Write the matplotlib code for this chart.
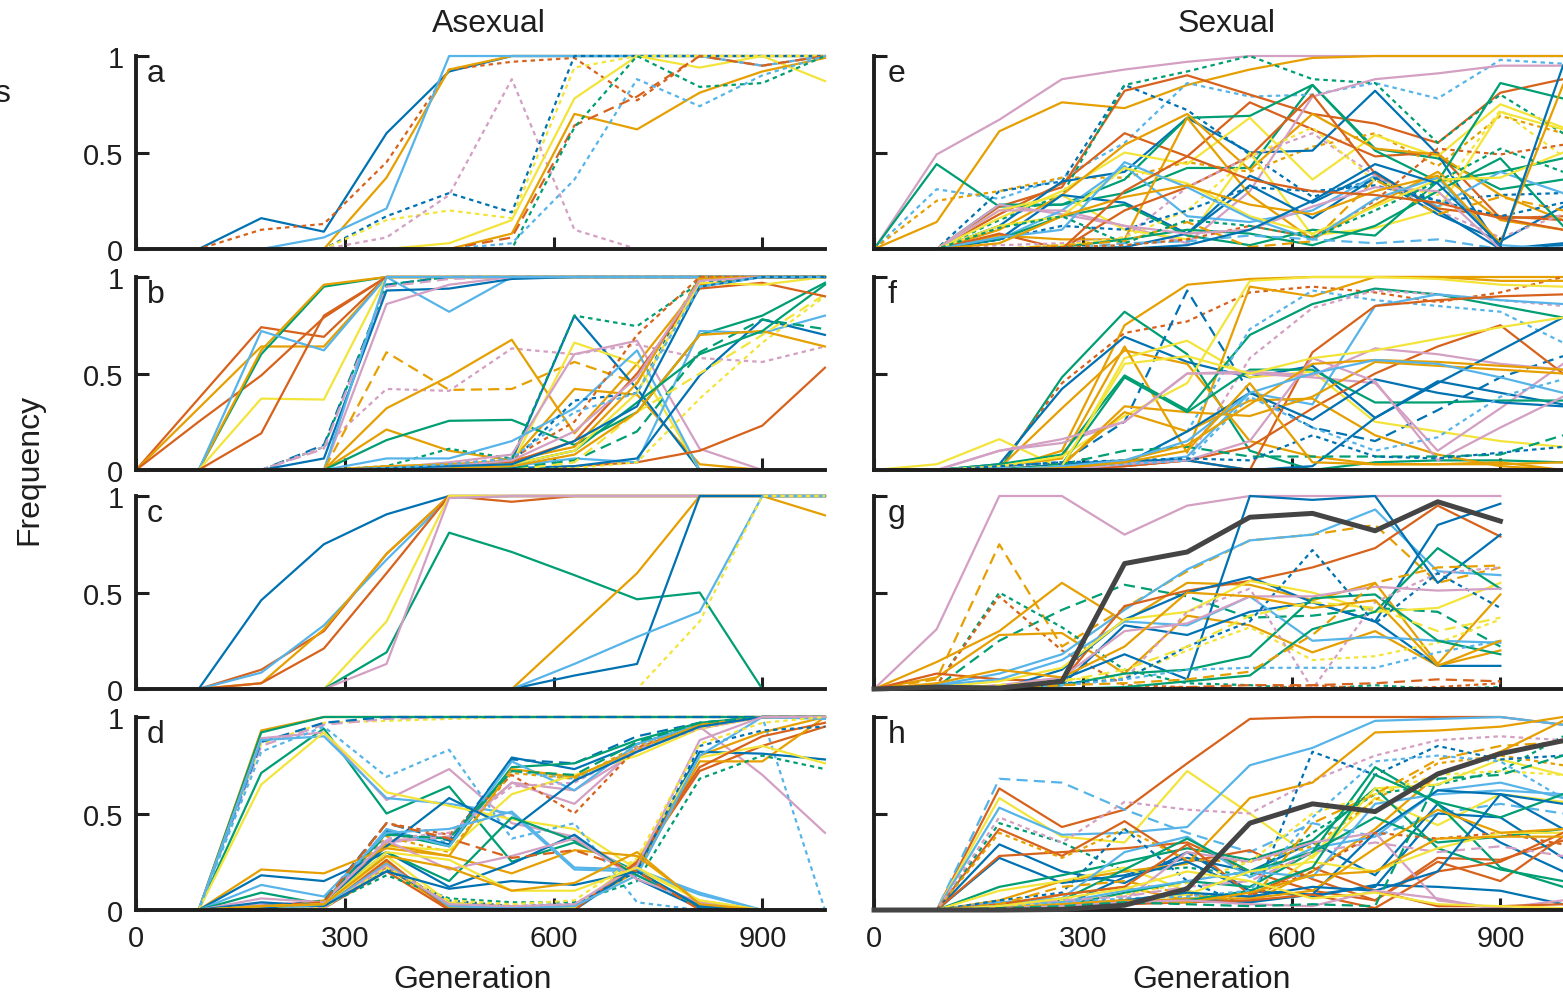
import numpy as np
import matplotlib
matplotlib.use('Agg')
import matplotlib.pyplot as plt

plt.rcParams['font.family'] = ['Liberation Sans', 'DejaVu Sans']

N = np.nan
generations = [0, 90, 180, 270, 360, 450, 540, 630, 720, 810, 900, 990]

# ---- Asexual ----
a_runs = [
    [0, 0, 0.16, 0.09, 0.60, 0.92, 1, 1, 1, 1, 1, 1],
    [0, 0, 0.10, 0.13, 0.45, 0.93, 0.97, 0.99, 0.77, 1, 0.95, 1],
    [0, 0, 0, 0, 0.37, 0.93, 1, 1, 1, 1, 1, 1],
    [0, 0, 0, 0.06, 0.21, 1, 1, 1, 1, 1, 0.95, 1],
    [0, 0, 0, 0, 0.17, 0.29, 0.19, 1, 1, 1, 1, 1],
    [0, 0, 0, 0, 0.15, 0.20, 0.16, 0.94, 1, 1, 1, 1],
    [0, 0, 0, 0, 0.06, 0.28, 0.88, 0.10, 0, 0, 0, 0],
    [0, 0, 0, 0, 0, 0.03, 0.15, 0.78, 1, 0.94, 1, 0.87],
    [0, 0, 0, 0, 0, 0, 0.08, 0.70, 0.62, 0.81, 0.92, 0.99],
    [0, 0, 0, 0, 0, 0, 0.06, 0.64, 0.79, 1, 0.95, 1],
    [0, 0, 0, 0, 0, 0, 0, 0.63, 1, 0.84, 0.86, 1],
    [0, 0, 0, 0, 0, 0, 0.03, 0.36, 0.88, 0.74, 0.90, 1],
]
a_kinds = ['B-', 'V:', 'O-', 'L-', 'B:', 'Y:', 'P:', 'Y-', 'O-', 'V--', 'G:', 'L:']

b_runs = [
    [0, 0.37, 0.74, 0.69, 1, 1, 1, 1, 1, 1, 1, 1],
    [0, 0.32, 0.64, 0.64, 1, 1, 1, 1, 1, 1, 1, 1],
    [0, 0.25, 0.49, 0.79, 1, 1, 1, 1, 1, 1, 1, 1],
    [0, 0, 0.60, 0.95, 1, 1, 1, 1, 1, 1, 1, 1],
    [0, 0, 0.62, 0.96, 1, 1, 1, 1, 1, 1, 1, 1],
    [0, 0, 0.72, 0.62, 1, 0.82, 1, 1, 1, 1, 1, 1],
    [0, 0, 0.37, 0.365, 1, 1, 1, 1, 1, 1, 1, 1],
    [0, 0, 0.19, 0.80, 1, 1, 1, 1, 1, 1, 1, 1],
    [0, 0, 0, 0.13, 0.96, 1, 1, 1, 1, 1, 1, 1],
    [0, 0, 0, 0.12, 0.96, 1, 1, 1, 1, 1, 1, 1],
    [0, 0, 0, 0.11, 0.95, 0.99, 1, 1, 1, 1, 1, 1],
    [0, 0, 0, 0.12, 0.42, 0.41, 0.63, 0.60, 0.65, 0.58, 0.56, 0.64],
    [0, 0, 0, 0.06, 0.93, 0.94, 0.99, 1, 1, 1, 1, 1],
    [0, 0, 0, 0, 0.86, 0.96, 1, 1, 1, 1, 1, 1],
    [0, 0, 0, 0, 1, 1, 1, 1, 1, 1, 1, 1],
    [0, 0, 0, 0, 0.32, 0.485, 0.675, 0.19, 0.55, 0.96, 1, 1],
    [0, 0, 0, 0, 0.61, 0.415, 0.42, 0.56, 0.45, 1, 1, 1],
    [0, 0, 0, 0, 0.21, 0.10, 0.05, 0.42, 0.39, 0.03, 0, 0],
    [0, 0, 0, 0, 0.155, 0.255, 0.26, 0.13, 0.30, 0.70, 0.80, 0.97],
    [0, 0, 0, 0, 0.01, 0.02, 0.05, 0.80, 0.42, 0, 0, 0],
    [0, 0, 0, 0, 0.02, 0.11, 0.06, 0.80, 0.745, 0.97, 1, 1],
    [0, 0, 0, 0, 0, 0.02, 0.03, 0.66, 0.55, 0, 0, 0],
    [0, 0, 0, 0, 0.01, 0.04, 0.08, 0.60, 0.67, 0.11, 0, 0],
    [0, 0, 0, 0, 0.06, 0.06, 0.15, 0.32, 0.62, 0, 0, 0],
    [0, 0, 0, 0, 0, 0.02, 0.04, 0.36, 0.40, 1, 1, 1],
    [0, 0, 0, 0, 0, 0.03, 0.06, 0.25, 0.70, 1, 1, 1],
    [0, 0, 0, 0, 0.02, 0.03, 0.05, 0.12, 0.45, 0.99, 1, 1],
    [0, 0, 0, 0, 0, 0, 0, 0.02, 0.04, 0.10, 0.23, 0.53],
    [0, 0, 0, 0, 0, 0.01, 0.02, 0.06, 0.04, 0.72, 0.71, 0.80],
    [0, 0, 0, 0, 0, 0, 0.01, 0.02, 0.06, 0.49, 0.78, 0.70],
    [0, 0, 0, 0, 0, 0, 0.01, 0.05, 0.20, 0.61, 0.78, 0.73],
    [0, 0, 0, 0, 0, 0, 0, 0.04, 0.30, 0.50, 0.70, 0.91],
    [0, 0, 0, 0, 0, 0, 0, 0.01, 0.04, 0.37, 0.66, 0.90],
    [0, 0, 0, 0, 0, 0.01, 0.02, 0.08, 0.30, 0.70, 0.72, 0.64],
    [0, 0, 0, 0, 0, 0.02, 0.03, 0.10, 0.35, 0.60, 0.72, 0.96],
    [0, 0, 0, 0, 0.01, 0.02, 0.04, 0.15, 0.50, 0.94, 0.97, 0.90],
    [0, 0, 0, 0, 0.01, 0.02, 0.03, 0.10, 0.40, 0.97, 0.96, 1],
    [0, 0, 0, 0, 0, 0.02, 0.05, 0.20, 0.48, 0.98, 1, 1],
    [0, 0, 0, 0, 0.01, 0.02, 0.03, 0.15, 0.33, 0.95, 1, 1],
    [0, 0, 0, 0, 0.01, 0.03, 0.06, 0.30, 0.40, 0.95, 1, 1],
]
b_kinds = ['V-', 'O-', 'V-', 'G-', 'O-', 'L-', 'Y-', 'V-', 'B--', 'G:', 'P--',
           'P:', 'B-', 'P-', 'L-', 'O-', 'O--', 'O-', 'G-', 'B-', 'G:', 'Y-',
           'P-', 'L-', 'B:', 'V:', 'O-', 'V-', 'L-', 'B-', 'G--', 'Y--', 'Y:',
           'O-', 'G-', 'V-', 'Y-', 'P-', 'B-', 'L:']

c_runs = [
    [0, 0, 0.46, 0.75, 0.905, 1, 1, 1, 1, 1, 1, 1],
    [0, 0, 0.10, 0.30, 0.70, 1, 0.97, 1, 1, 1, 1, 1],
    [0, 0, 0.085, 0.33, 0.67, 0.99, 1, 1, 1, 1, 1, 1],
    [0, 0, 0.03, 0.31, 0.70, 1, 1, 1, 1, 1, 1, 1],
    [0, 0, 0.03, 0.21, 0.60, 1, 1, 1, 1, 1, 1, 1],
    [0, 0, 0, 0, 0.35, 1, 1, 1, 1, 1, 1, 1],
    [0, 0, 0, 0, 0.19, 0.81, 0.71, 0.59, 0.465, 0.50, 0, 0],
    [0, 0, 0, 0, 0.13, 0.99, 1, 1, 1, 1, 1, 1],
    [0, 0, 0, 0, 0, 0, 0, 0.30, 0.60, 1, 1, 0.90],
    [0, 0, 0, 0, 0, 0, 0, 0.07, 0.13, 1, 1, 1],
    [0, 0, 0, 0, 0, 0, 0, 0.13, 0.27, 0.40, 1, 1],
    [0, 0, 0, 0, 0, 0, 0, 0, 0, 0.35, 1, 1],
]
c_kinds = ['B-', 'V-', 'L-', 'O-', 'V-', 'Y-', 'G-', 'P-', 'O-', 'B-', 'L-', 'Y:']

d_runs = [
    [0, 0, 0.93, 1, 1, 1, 1, 1, 1, 1, 1, 1],
    [0, 0, 0.86, 0.97, 0.98, 0.99, 1, 1, 1, 1, 1, 1],
    [0, 0, 0.85, 0.96, 0.99, 1, 1, 1, 1, 1, 1, 1],
    [0, 0, 0.92, 1, 1, 1, 1, 1, 1, 1, 1, 1],
    [0, 0, 0.87, 0.97, 1, 1, 1, 1, 1, 1, 1, 1],
    [0, 0, 0.71, 0.94, 0.50, 0.64, 0.25, 0.35, 0.20, 0.02, 0, 0],
    [0, 0, 0.89, 0.92, 0.57, 0.73, 0.45, 0.38, 0.18, 0.03, 0, 0],
    [0, 0, 0.88, 0.90, 0.58, 0.55, 0.50, 0.21, 0.20, 0.08, 0, 0],
    [0, 0, 0.65, 0.92, 0.61, 0.54, 0.47, 0.42, 0.21, 0.05, 0, 0],
    [0, 0, 0.82, 0.95, 0.69, 0.83, 0.37, 0.45, 0.04, 0, 0, 0],
    [0, 0, 0.03, 0.04, 0.35, 0.38, 0.66, 0.62, 0.82, 0.95, 0.70, 0.40],
    [0, 0, 0.02, 0.03, 0.40, 0.35, 0.72, 0.68, 0.84, 0.96, 1, 0],
    [0, 0, 0.01, 0.05, 0.45, 0.36, 0.78, 0.76, 0.90, 0.97, 1, 1],
    [0, 0, 0.02, 0.04, 0.41, 0.34, 0.79, 0.73, 0.86, 0.96, 1, 1],
    [0, 0, 0.01, 0.03, 0.40, 0.33, 0.74, 0.76, 0.88, 0.97, 1, 1],
    [0, 0, 0, 0.04, 0.38, 0.30, 0.71, 0.68, 0.85, 0.95, 1, 1],
    [0, 0, 0.01, 0.04, 0.36, 0.38, 0.66, 0.55, 0.84, 0.94, 1, 1],
    [0, 0, 0.01, 0.03, 0.42, 0.33, 0.77, 0.62, 0.86, 0.96, 1, 1],
    [0, 0, 0, 0.02, 0.33, 0.31, 0.60, 0.70, 0.80, 0.94, 1, 1],
    [0, 0, 0, 0.03, 0.45, 0.39, 0.70, 0.50, 0.84, 0.95, 1, 1],
    [0, 0, 0, 0.05, 0.34, 0.28, 0.73, 0.69, 0.83, 0.96, 1, 1],
    [0, 0, 0, 0.04, 0.37, 0.40, 0.64, 0.66, 0.83, 0.94, 1, 1],
    [0, 0, 0, 0.05, 0.39, 0.37, 0.72, 0.70, 0.87, 0.97, 1, 1],
    [0, 0, 0.01, 0.04, 0.33, 0.58, 0.42, 0.67, 0.82, 0.95, 1, 1],
    [0, 0, 0, 0.02, 0.22, 0.01, 0, 0.01, 0.22, 0.80, 0.92, 1],
    [0, 0, 0, 0.01, 0.20, 0, 0, 0.01, 0.24, 0.72, 0.85, 0.95],
    [0, 0, 0, 0.01, 0.25, 0.02, 0.01, 0.02, 0.20, 0.77, 0.77, 1],
    [0, 0, 0, 0.02, 0.18, 0.06, 0.04, 0.04, 0.15, 0.68, 0.80, 0.73],
    [0, 0, 0, 0.02, 0.23, 0.03, 0, 0, 0.22, 0.82, 0.81, 0.78],
    [0, 0, 0, 0.02, 0.28, 0.04, 0.02, 0.01, 0.26, 0.79, 0.85, 0.76],
    [0, 0, 0, 0.01, 0.26, 0, 0, 0, 0.25, 0.74, 0.90, 0.97],
    [0, 0, 0, 0.01, 0.21, 0.05, 0.02, 0.03, 0.20, 0.85, 0.93, 0.95],
    [0, 0, 0, 0.02, 0.24, 0.02, 0.01, 0.02, 0.18, 0.80, 1, 0.99],
    [0, 0, 0, 0.01, 0.23, 0.03, 0.02, 0.03, 0.23, 0.88, 1, 1],
    [0, 0, 0, 0.01, 0.22, 0.05, 0.03, 0.05, 0.27, 0.86, 0.97, 1],
    [0, 0, 0.21, 0.19, 0.32, 0.28, 0.19, 0.31, 0.28, 0.04, 0, 0],
    [0, 0, 0.18, 0.15, 0.30, 0.12, 0.24, 0.39, 0.16, 0.01, 0, 0],
    [0, 0, 0.13, 0.07, 0.40, 0.42, 0.51, 0.22, 0.21, 0.09, 0, 0],
    [0, 0, 0.09, 0.03, 0.30, 0.15, 0.48, 0.36, 0.18, 0.02, 0, 0],
    [0, 0, 0.06, 0.04, 0.36, 0.21, 0.28, 0.37, 0.16, 0.04, 0, 0],
    [0, 0, 0.04, 0.02, 0.20, 0.11, 0.15, 0.13, 0.20, 0.02, 0, 0],
    [0, 0, 0.02, 0.04, 0.45, 0.37, 0.27, 0.31, 0.20, 0, 0, 0],
    [0, 0, 0.02, 0.03, 0.30, 0.26, 0.10, 0.10, 0.22, 0.05, 0, 0],
    [0, 0, 0.02, 0.03, 0.28, 0.22, 0.10, 0.14, 0.30, 0.03, 0, 0],
]
d_kinds = ['O-', 'Y:', 'P--', 'G-', 'B--', 'G-', 'P-', 'L-', 'Y-', 'L:', 'P-',
           'L:', 'B--', 'B-', 'G-', 'O:', 'P-', 'L-', 'Y-', 'V:', 'O-', 'P:',
           'G--', 'B-', 'O-', 'V-', 'O-', 'G:', 'B-', 'Y-', 'V-', 'B:', 'L-',
           'P-', 'Y:', 'O-', 'B-', 'L-', 'G-', 'P-', 'B-', 'V--', 'Y-', 'O-']

# ---- Sexual ----
e_runs = [
    [0, 0.49, 0.67, 0.88, 0.93, 0.97, 1, 1, 1, 1, 1, 1],
    [0, 0.14, 0.61, 0.76, 0.73, 0.85, 0.93, 0.99, 1, 1, 1, 1],
    [0, 0.44, 0.22, 0.23, 0.29, 0.42, 0.42, 0.85, 0.52, 0.47, 0.31, 0.36],
    [0, 0.31, 0.26, 0.37, 0.55, 0.86, 0.79, 0.80, 0.86, 0.78, 0.98, 0.96],
    [0, 0.25, 0.30, 0.37, 0.37, 0.45, 0.40, 0.53, 0.60, 0.43, 0.69, 0.60],
    [0, 0, 0.30, 0.35, 0.85, 0.72, 0.49, 0.27, 0.36, 0.25, 0.28, 0.29],
    [0, 0, 0.22, 0.32, 0.82, 0.90, 0.80, 0.70, 0.65, 0.55, 0.81, 0.88],
    [0, 0, 0.18, 0.34, 0.60, 0.48, 0.76, 0.62, 0.48, 0.50, 0.16, 0.17],
    [0, 0, 0.15, 0.28, 0.85, 0.92, 1.0, 0.88, 0.86, 0.55, 0.80, 0.60],
    [0, 0, 0.12, 0.35, 0.40, 0.68, 0.50, 0.51, 0.82, 0.49, 0, 0.03],
    [0, 0, 0.23, 0.23, 0.36, 0.68, 0.69, 0.85, 0.51, 0.35, 0.40, 0.47],
    [0, 0, 0.16, 0.30, 0.50, 0.44, 0.68, 0.36, 0.59, 0.48, 0.75, 0.63],
    [0, 0, 0.10, 0.28, 0.54, 0.70, 0.41, 0.70, 0.52, 0.49, 0.28, 0.15],
    [0, 0, 0.23, 0.18, 0.12, 0.03, 0.30, 0.79, 0.88, 0.91, 0.95, 0.95],
    [0, 0, 0.20, 0.28, 0.10, 0.05, 0.50, 0.07, 0.11, 0.20, 0.71, 0.62],
    [0, 0, 0.05, 0.20, 0.43, 0.17, 0.14, 0.20, 0.38, 0.22, 0.40, 0.29],
    [0, 0, 0.05, 0.28, 0.24, 0.08, 0.33, 0.16, 0.37, 0.18, 0.04, 0.22],
    [0, 0, 0.05, 0.17, 0.23, 0.07, 0.02, 0.10, 0.07, 0.35, 0.86, 0.78],
    [0, 0, 0.07, 0.05, 0.05, 0.68, 0.28, 0.05, 0.23, 0.40, 0.15, 0.10],
    [0, 0, 0.08, 0, 0.20, 0.32, 0.48, 0.80, 0.39, 0.21, 0.17, 0.15],
    [0, 0, 0.02, 0.03, 0.06, 0.32, 0.48, 0.60, 0.38, 0.20, 0.06, 0.18],
    [0, 0, 0, 0.02, 0.06, 0.20, 0.48, 0.63, 0.35, 0.28, 0.72, 0.48],
    [0, 0, 0, 0, 0.01, 0.08, 0.38, 0.24, 0.40, 0.20, 0, 0.02],
    [0, 0, 0, 0.01, 0.05, 0.10, 0.08, 0.02, 0.12, 0.30, 0.47, 0.12],
    [0, 0, 0, 0.02, 0.04, 0.14, 0.01, 0.04, 0.36, 0.18, 0.27, 0.20],
    [0, 0, 0, 0, 0.03, 0.04, 0.07, 0.05, 0.03, 0.05, 0, 0.01],
    [0, 0, 0, 0.01, 0.02, 0.05, 0.12, 0.06, 0.25, 0.52, 0.49, 0.54],
    [0, 0, 0.05, 0.12, 0.10, 0.20, 0.32, 0.30, 0.33, 0.25, 0.17, 0.24],
    [0, 0, 0.20, 0.20, 0.12, 0.08, 0.10, 0.22, 0.32, 0.30, 0, 0],
    [0, 0, 0.12, 0.17, 0.42, 0.34, 0.17, 0.08, 0.22, 0.36, 0.37, 0.50],
    [0, 0, 0.06, 0.10, 0.45, 0.32, 0.16, 0.05, 0.26, 0.37, 0.02, 0],
    [0, 0, 0.03, 0.17, 0.27, 0.33, 0.23, 0.18, 0.30, 0.38, 0.03, 0.85],
    [0, 0, 0.11, 0.17, 0.03, 0.15, 0.12, 0.06, 0.20, 0.35, 0.52, 0.40],
    [0, 0, 0, 0, 0.30, 0.48, 0.36, 0.30, 0.28, 0.24, 0.16, 0.10],
    [0, 0, 0, 0, 0, 0.02, 0.10, 0.25, 0.44, 0.34, 0.02, 0.95],
]
e_kinds = ['P-', 'O-', 'G-', 'L:', 'O:', 'B:', 'V-', 'V-', 'G:', 'B-', 'G-',
           'Y-', 'O-', 'P-', 'Y-', 'L-', 'B-', 'G-', 'O-', 'V-', 'P:', 'Y:',
           'B-', 'G-', 'O--', 'L--', 'V:', 'B:', 'P-', 'Y-', 'L-', 'O-', 'G:',
           'V-', 'B-']

f_runs = [
    [0, 0, 0, 0.10, 0.75, 0.96, 0.99, 1, 1, 1, 1, 1],
    [0, 0, 0, 0.48, 0.82, 0.60, 0.10, 0, 0.04, 0.05, 0.05, 0.04],
    [0, 0, 0.02, 0.45, 0.71, 0.77, 0.92, 0.95, 0.92, 0.87, 0.92, 1],
    [0, 0, 0.03, 0.42, 0.69, 0.56, 0.48, 0.54, 0.27, 0.46, 0.40, 0.34],
    [0, 0, 0.02, 0.04, 0.25, 0.93, 0.40, 0.22, 0.15, 0.31, 0.48, 0.59],
    [0, 0, 0.01, 0.32, 0.62, 0.55, 0.15, 0.07, 0.03, 0.03, 0.04, 0],
    [0, 0.03, 0.16, 0.01, 0.58, 0.67, 0.48, 0.51, 0.25, 0.20, 0.15, 0.12],
    [0, 0, 0.10, 0.14, 0.25, 0.50, 0.50, 0.48, 0.45, 0.10, 0.32, 0.55],
    [0, 0, 0.02, 0.06, 0.64, 0.09, 0.95, 0.90, 1, 1, 0.98, 0.98],
    [0, 0, 0.03, 0.08, 0.49, 0.31, 0.70, 0.86, 0.94, 0.91, 0.85, 0.79],
    [0, 0, 0.02, 0.04, 0.03, 0.20, 0.73, 0.93, 0.88, 0.85, 0.82, 0.66],
    [0, 0, 0.02, 0.07, 0.28, 0.45, 0.98, 1, 1, 0.99, 0.96, 0.95],
    [0, 0, 0.02, 0.03, 0.02, 0.05, 0.58, 0.84, 0.93, 0.91, 0.88, 0.85],
    [0, 0, 0.01, 0.02, 0.03, 0.07, 0.40, 0.34, 0.85, 0.91, 0.88, 0.86],
    [0, 0, 0, 0.01, 0.02, 0.05, 0, 0.61, 0.85, 0.88, 0.90, 0.91],
    [0, 0, 0, 0, 0.02, 0.05, 0.12, 0.32, 0.50, 0.64, 0.75, 0.50],
    [0, 0, 0, 0.02, 0.33, 0.30, 0.28, 0.38, 0.56, 0.54, 0.52, 0.50],
    [0, 0, 0, 0.03, 0.48, 0.30, 0.52, 0.52, 0.35, 0.35, 0.36, 0.36],
    [0, 0, 0, 0.03, 0.30, 0.20, 0.36, 0.37, 0.18, 0.08, 0.02, 0],
    [0, 0, 0, 0.02, 0.03, 0.20, 0.40, 0.26, 0.47, 0.40, 0.35, 0.33],
    [0, 0, 0.10, 0.16, 0.25, 0.50, 0.51, 0.49, 0.63, 0.60, 0.55, 0.52],
    [0, 0, 0, 0.03, 0.05, 0.05, 0, 0.02, 0.27, 0.45, 0.62, 0.79],
    [0, 0, 0, 0, 0.03, 0.05, 0.15, 0.58, 0.46, 0.05, 0.22, 0.38],
    [0, 0, 0, 0.02, 0.03, 0.05, 0.38, 0.22, 0.10, 0.17, 0.38, 0.47],
    [0, 0, 0, 0.03, 0.10, 0.12, 0.07, 0.07, 0.07, 0.07, 0.08, 0.18],
    [0, 0, 0.02, 0.04, 0.05, 0.06, 0.05, 0.18, 0.07, 0.06, 0.09, 0.12],
    [0, 0, 0, 0.02, 0.55, 0.59, 0.50, 0.58, 0.62, 0.68, 0.74, 0.79],
    [0, 0, 0, 0.01, 0.05, 0.13, 0.34, 0.55, 0.57, 0.56, 0.54, 0.52],
    [0, 0, 0, 0.02, 0.05, 0.15, 0.40, 0.50, 0.57, 0.55, 0.48, 0.40],
    [0, 0, 0, 0.01, 0.04, 0.10, 0.45, 0.04, 0.03, 0.03, 0.03, 0.04],
]
f_kinds = ['O-', 'G-', 'V:', 'B-', 'B--', 'O-', 'Y-', 'P-', 'O-', 'G-', 'L:',
           'Y-', 'P:', 'L-', 'V-', 'V-', 'O-', 'G-', 'O-', 'B-', 'P-', 'B-',
           'P-', 'L:', 'G--', 'B:', 'Y-', 'O-', 'L-', 'O-']

g_runs = [
    [0, 0.31, 1, 1, 0.80, 0.95, 1, 1, 1, 1, 1, N],
    [0, 0.05, 0.75, 0.22, 0.42, 0.61, 0.77, 0.80, 0.85, 0.55, 0.63, N],
    [0, 0.02, 0.50, 0.32, 0.10, 0.03, 0.02, 0, 0.02, 0, 0.01, N],
    [0, 0.01, 0.25, 0.41, 0.54, 0.48, 0.37, 0.38, 0.42, 0.40, 0.22, N],
    [0, 0.02, 0.48, 0.20, 0.02, 0.01, 0, 0.02, 0, 0.01, 0.03, N],
    [0, 0.14, 0.30, 0.55, 0.35, 0.55, 0.54, 0.46, 0.55, 0.13, 0.49, N],
    [0, 0.06, 0.28, 0.29, 0.08, 0.38, 0.33, 0.19, 0.30, 0.12, 0.20, N],
    [0, 0.02, 0.08, 0.18, 0.41, 0.62, 0.77, 0.80, 0.93, 0.61, 0.59, N],
    [0, 0.08, 0.05, 0.04, 0.43, 0.51, 0.56, 0.63, 0.73, 0.95, 0.79, N],
    [0, 0, 0, 0.10, 0.36, 0.50, 0.58, 0.45, 0.35, 0.12, 0.12, N],
    [0, 0, 0, 0.05, 0.18, 0.05, 1.0, 0.98, 1.0, 0.55, 0.80, N],
    [0, 0, 0, 0.02, 0.33, 0.28, 0.40, 0.45, 0.35, 0.85, 0.96, N],
    [0, 0.02, 0.05, 0.15, 0.35, 0.33, 0.48, 0.25, 0.27, 0.25, 0.24, N],
    [0, 0.01, 0.04, 0.11, 0.36, 0.40, 0.56, 0.50, 0.40, 0.42, 0.55, N],
    [0, 0, 0.02, 0.05, 0.06, 0.20, 0.32, 0.15, 0.17, 0.24, 0.36, N],
    [0, 0, 0, 0, 0.01, 0.04, 0.07, 0.31, 0.40, 0.73, 0.52, N],
    [0, 0, 0, 0.02, 0.08, 0.10, 0.17, 0.47, 0.49, 0.25, 0.18, N],
    [0, 0, 0.01, 0.02, 0.05, 0.40, 0.52, 0, 0.45, 0.60, 0.63, N],
    [0, 0, 0, 0.03, 0.05, 0.22, 0.35, 0.72, 0.34, 0.60, 0.42, N],
    [0, 0, 0.01, 0.02, 0.05, 0.10, 0.11, 0.11, 0.11, 0.19, 0.25, N],
    [0, 0, 0.02, 0.06, 0.30, 0.34, 0.48, 0.48, 0.53, 0.51, 0.52, N],
    [0, 0, 0, 0, 0, 0.01, 0.02, 0.02, 0.03, 0.05, 0.04, N],
    [0, 0.03, 0.10, 0.06, 0.22, 0.50, 0.48, 0.42, 0.46, 0.12, 0.25, N],
    [0, 0, 0.02, 0.04, 0.10, 0.22, 0.38, 0.45, 0.42, 0.30, 0.37, N],
    [0, 0, 0, 0.02, 0.03, 0.05, 0.09, 0.28, 0.55, 0.63, 0.64, N],
    [0, 0.01, 0.005, 0.04, 0.65, 0.71, 0.89, 0.91, 0.82, 0.97, 0.87, N],
]
g_kinds = ['P-', 'O--', 'G:', 'G--', 'V:', 'O-', 'O-', 'L-', 'V-', 'B-', 'B-',
           'B-', 'L-', 'Y-', 'Y:', 'G-', 'G-', 'P:', 'B:', 'L:', 'P-', 'V--',
           'O-', 'Y--', 'O--', 'K-']

h_runs = [
    [0, 0, 0.63, 0.43, 0.52, 0.76, 0.99, 1, 1, 1, 1, 0.96],
    [0, 0, 0.68, 0.66, 0.52, 0.40, 0.30, 0.45, 0.38, 0.50, 0.55, 0.50],
    [0, 0, 0.58, 0.38, 0.35, 0.72, 0.50, 0.27, 0.58, 0.44, 0.60, 0.56],
    [0, 0, 0.53, 0.39, 0.40, 0.43, 0.75, 0.84, 0.98, 0.99, 1, 0.96],
    [0, 0, 0.42, 0.28, 0.46, 0.25, 0.31, 0.16, 0.05, 0.27, 0.26, 0.36],
    [0, 0, 0.34, 0.20, 0.14, 0.30, 0.10, 0.08, 0.12, 0.50, 0.48, 0.27],
    [0, 0, 0.27, 0.14, 0.18, 0.27, 0.20, 0.35, 0.18, 0.55, 0.35, 0.20],
    [0, 0, 0.28, 0.30, 0.32, 0.35, 0.20, 0.10, 0.05, 0.25, 0.15, 0.38],
    [0, 0, 0.45, 0.35, 0.20, 0.22, 0.18, 0.40, 0.60, 0.65, 0.72, 0.90],
    [0, 0, 0.40, 0.27, 0.42, 0.26, 0.25, 0.33, 0.57, 0.76, 0.80, 0.75],
    [0, 0, 0.48, 0.35, 0.56, 0.52, 0.50, 0.67, 0.80, 0.88, 0.90, 0.88],
    [0, 0, 0.12, 0.18, 0.25, 0.32, 0.26, 0.36, 0.63, 0.32, 0.21, 0.15],
    [0, 0, 0.05, 0.15, 0.20, 0.24, 0.58, 0.66, 0.92, 0.93, 0.95, 1],
    [0, 0, 0.02, 0.08, 0.12, 0.05, 0.04, 0.20, 0.42, 0.70, 0.82, 0.98],
    [0, 0, 0.10, 0.15, 0.22, 0.10, 0.03, 0.28, 0.63, 0.65, 0.78, 0.70],
    [0, 0, 0.04, 0.06, 0.30, 0.38, 0.17, 0.32, 0.38, 0.62, 0.66, 0.58],
    [0, 0, 0.05, 0.09, 0.42, 0.15, 0.02, 0.82, 0.70, 0.85, 0.78, 0.80],
    [0, 0, 0.02, 0.05, 0.21, 0.37, 0.20, 0.30, 0.74, 0.55, 0.22, 0.12],
    [0, 0, 0.01, 0.02, 0.17, 0.25, 0.10, 0.07, 0.13, 0.12, 0.10, 0.03],
    [0, 0, 0.02, 0.04, 0.05, 0.30, 0.25, 0.35, 0.40, 0.05, 0.01, 0.05],
    [0, 0, 0.03, 0.08, 0.12, 0.34, 0.08, 0.22, 0.10, 0.02, 0.02, 0.03],
    [0, 0, 0.03, 0.12, 0.15, 0.08, 0.04, 0.45, 0.60, 0.78, 0.85, 0.87],
    [0, 0, 0.01, 0.05, 0.08, 0.14, 0.25, 0.50, 0.60, 0.70, 0.72, 0.70],
    [0, 0, 0.01, 0.02, 0.09, 0.15, 0.12, 0.30, 0.48, 0.35, 0.38, 0.42],
    [0, 0, 0.02, 0.04, 0.10, 0.15, 0.20, 0.17, 0.55, 0.60, 0.62, 0.60],
    [0, 0, 0.01, 0.02, 0.03, 0.06, 0.04, 0.08, 0.40, 0.62, 0.60, 0.42],
    [0, 0, 0.02, 0.05, 0.07, 0.12, 0.15, 0.30, 0.35, 0.30, 0.33, 0.28],
    [0, 0, 0.02, 0.03, 0.05, 0.08, 0.07, 0.20, 0.40, 0.37, 0.40, 0.34],
    [0, 0, 0.02, 0.03, 0.05, 0.08, 0.20, 0.25, 0.20, 0.32, 0.40, 0.40],
    [0, 0, 0.01, 0.02, 0.04, 0.06, 0.06, 0.10, 0.32, 0.52, 0.40, 0.42],
    [0, 0, 0.01, 0.02, 0.03, 0.05, 0.10, 0.22, 0.70, 0.56, 0.48, 0.60],
    [0, 0, 0.02, 0.04, 0.06, 0.07, 0.10, 0.48, 0.77, 0.80, 0.77, 0.58],
    [0, 0, 0.01, 0.02, 0.03, 0.04, 0.05, 0.08, 0.01, 0.20, 0.25, 0.40],
    [0, 0, 0.01, 0.02, 0.05, 0.09, 0.07, 0.12, 0.10, 0.20, 0.60, 0.55],
    [0, 0, 0.01, 0.03, 0.05, 0.04, 0.09, 0.18, 0.20, 0.37, 0.38, 0.38],
    [0, 0, 0.01, 0.02, 0.04, 0.05, 0.03, 0.02, 0.10, 0.06, 0, 0],
    [0, 0, 0.02, 0.06, 0.11, 0.20, 0.15, 0.06, 0.09, 0.03, 0.02, 0.01],
    [0, 0, 0.01, 0.02, 0.04, 0.03, 0.02, 0.03, 0.02, 0.68, 0.70, 0.80],
    [0, 0, 0, 0.003, 0.025, 0.11, 0.45, 0.55, 0.51, 0.705, 0.81, 0.877],
]
h_kinds = ['V-', 'L--', 'Y-', 'L-', 'V-', 'B-', 'B-', 'V-', 'G:', 'O:', 'P:',
           'G-', 'O-', 'O-', 'Y-', 'L-', 'B:', 'G-', 'B-', 'P-', 'V-', 'O--',
           'Y:', 'G-', 'L-', 'B-', 'P--', 'V:', 'Y-', 'O-', 'G-', 'L:', 'V-',
           'B-', 'O-', 'P-', 'Y-', 'G--', 'K-']

panels = {'a': (a_runs, a_kinds), 'b': (b_runs, b_kinds),
          'c': (c_runs, c_kinds), 'd': (d_runs, d_kinds),
          'e': (e_runs, e_kinds), 'f': (f_runs, f_kinds),
          'g': (g_runs, g_kinds), 'h': (h_runs, h_kinds)}

colours = {'B': '#0072B2', 'V': '#D7621C', 'O': '#E69F00', 'G': '#009E73',
           'L': '#56B4E9', 'Y': '#F3E43A', 'P': '#D39FC2', 'K': '#444444'}
styles = {'-': '-', ':': (0, (2.0, 1.8)), '--': (0, (5.0, 2.8))}

fig = plt.figure(figsize=(15.63, 9.95), dpi=100)

lefts = [0.0870, 0.5592]
bottoms = [0.7487, 0.5266, 0.3065, 0.0844]
width, height = 0.4408, 0.194

for col, letters in enumerate(['abcd', 'efgh']):
    for row, letter in enumerate(letters):
        ax = fig.add_axes([lefts[col], bottoms[row], width, height])
        runs, kinds = panels[letter]
        for ys, kind in zip(runs, kinds):
            c, ls = kind[0], kind[1:]
            lw = 3.6 if c == 'K' else 1.6
            ax.plot(generations, ys, color=colours[c], linestyle=styles[ls],
                    lw=lw, clip_on=False, zorder=3 if c == 'K' else 2)

        ax.set_xlim(0, 990)
        ax.set_ylim(0, 1)
        for s in ['top', 'right']:
            ax.spines[s].set_visible(False)
        for s in ['left', 'bottom']:
            ax.spines[s].set_linewidth(2.8)
            ax.spines[s].set_color('#1e1e1e')
        ax.set_xticks([0, 300, 600, 900])
        ax.set_yticks([0, 0.5, 1])
        ax.set_yticklabels(['0', '0.5', '1'])
        ax.tick_params(direction='in', length=9, width=2.2, color='#1e1e1e',
                       labelsize=21, labelcolor='#1e1e1e')
        ax.tick_params(axis='y', pad=9)
        ax.tick_params(axis='x', pad=10)
        if col == 1:
            ax.tick_params(axis='y', labelleft=False)
        if row < 3:
            ax.tick_params(axis='x', labelbottom=False)
        ax.text(0.016 if col == 0 else 0.02, 0.91, letter, transform=ax.transAxes,
                fontsize=23, va='center', ha='left', color='#1e1e1e')

fig.text(0.3128, 0.976, 'Asexual', ha='center', va='center', fontsize=23, color='#1e1e1e')
fig.text(0.785, 0.976, 'Sexual', ha='center', va='center', fontsize=23, color='#1e1e1e')
fig.text(0.3026, 0.015, 'Generation', ha='center', va='center', fontsize=23, color='#1e1e1e')
fig.text(0.7754, 0.015, 'Generation', ha='center', va='center', fontsize=23, color='#1e1e1e')
fig.text(0.019, 0.528, 'Frequency', ha='center', va='center', rotation=90,
         fontsize=23, color='#1e1e1e')
# stray letter cut by the left edge in the source figure
fig.text(-0.004, 0.906, 's', ha='left', va='center', fontsize=23, color='#1e1e1e')

fig.savefig('out.png', dpi=100)
